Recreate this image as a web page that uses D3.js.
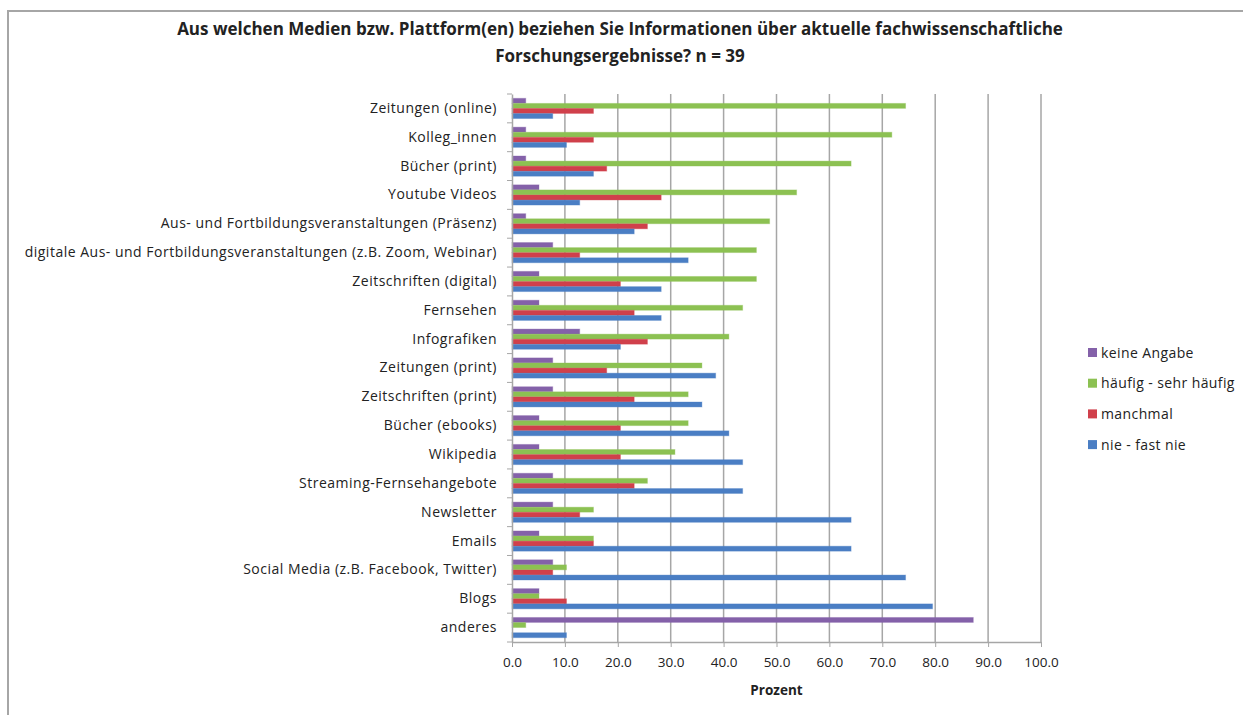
<!DOCTYPE html>
<html>
<head>
<meta charset="utf-8">
<script src="https://cdn.jsdelivr.net/npm/d3@7"></script>
<style>
  body { margin: 0; background: #fff; }
  svg text { font-family: "Open Sans", sans-serif; fill: #222; }
</style>
</head>
<body>
<div id="chart"></div>
<script>
// Categories, top to bottom
var categories = [
  "Zeitungen (online)", "Kolleg_innen", "Bücher (print)", "Youtube Videos",
  "Aus- und Fortbildungsveranstaltungen (Präsenz)",
  "digitale Aus- und Fortbildungsveranstaltungen (z.B. Zoom, Webinar)",
  "Zeitschriften (digital)", "Fernsehen", "Infografiken", "Zeitungen (print)",
  "Zeitschriften (print)", "Bücher (ebooks)", "Wikipedia",
  "Streaming-Fernsehangebote", "Newsletter", "Emails",
  "Social Media (z.B. Facebook, Twitter)", "Blogs", "anderes"
];

var seriesNames = ["keine Angabe", "häufig - sehr häufig", "manchmal", "nie - fast nie"];
var seriesColours = ["#8461a9", "#8cc152", "#d0404b", "#4a7ec4"];

// values in percent (n = 39)
var keineAngabe = [2.6, 2.6, 2.6, 5.1, 2.6, 7.7, 5.1, 5.1, 12.8, 7.7, 7.7, 5.1, 5.1, 7.7, 7.7, 5.1, 7.7, 5.1, 87.2];
var haeufig     = [74.4, 71.8, 64.1, 53.8, 48.7, 46.2, 46.2, 43.6, 41.0, 35.9, 33.3, 33.3, 30.8, 25.6, 15.4, 15.4, 10.3, 5.1, 2.6];
var manchmal    = [15.4, 15.4, 17.9, 28.2, 25.6, 12.8, 20.5, 23.1, 25.6, 17.9, 23.1, 20.5, 20.5, 23.1, 12.8, 15.4, 7.7, 10.3, 0];
var nieFastNie  = [7.7, 10.3, 15.4, 12.8, 23.1, 33.3, 28.2, 28.2, 20.5, 38.5, 35.9, 41.0, 43.6, 43.6, 64.1, 64.1, 74.4, 79.5, 10.3];

var xTicks = [0, 10, 20, 30, 40, 50, 60, 70, 80, 90, 100];

var allSeries = [keineAngabe, haeufig, manchmal, nieFastNie];

var width = 1243, height = 715;
var margins = { top: 94, right: 202, bottom: 73, left: 512 };

var svg = d3.select("#chart").append("svg")
  .attr("width", width)
  .attr("height", height);

// outer frame
svg.append("path")
  .attr("d", "M8," + height + " L8,11 L" + width + ",11")
  .attr("fill", "none")
  .attr("stroke", "#a6a6a6")
  .attr("stroke-width", 2);

var scaleX = d3.scaleLinear()
  .domain([0, 100])
  .range([margins.left, width - margins.right]);

var scaleY = d3.scaleBand()
  .domain(categories)
  .range([margins.top, height - margins.bottom])
  .paddingInner(0)
  .paddingOuter(0);

var inner = d3.scaleBand()
  .domain(d3.range(allSeries.length))
  .range([0, scaleY.bandwidth()])
  .paddingOuter(0.85)
  .paddingInner(0.03);

// gridlines
svg.append("g")
  .selectAll("line")
  .data(xTicks.slice(1))
  .enter().append("line")
  .attr("x1", function (d) { return scaleX(d); })
  .attr("x2", function (d) { return scaleX(d); })
  .attr("y1", margins.top)
  .attr("y2", height - margins.bottom)
  .attr("stroke", "#a6a6a6")
  .attr("stroke-width", 1.5);

// bars
var groups = svg.append("g").selectAll("g")
  .data(allSeries)
  .enter().append("g")
  .attr("fill", function (d, i) { return seriesColours[i]; });

groups.each(function (values, si) {
  d3.select(this).selectAll("rect")
    .data(values)
    .enter().append("rect")
    .attr("x", scaleX(0))
    .attr("y", function (d, i) { return scaleY(categories[i]) + inner(si); })
    .attr("width", function (d) { return scaleX(d) - scaleX(0); })
    .attr("height", inner.bandwidth())
    .attr("stroke", seriesColours[si])
    .attr("stroke-opacity", 0.35)
    .attr("stroke-width", 1);
});

// x axis
var xAxis = svg.append("g")
  .attr("transform", "translate(0," + (height - margins.bottom) + ")")
  .call(d3.axisBottom(scaleX).tickValues(xTicks).tickFormat(d3.format(".1f")).tickSizeInner(5).tickSizeOuter(0));
xAxis.select(".domain").attr("stroke", "#a6a6a6").attr("stroke-width", 1.5);
xAxis.selectAll(".tick line").attr("stroke", "#a6a6a6");
xAxis.selectAll(".tick text")
  .attr("y", 15)
  .style("font-size", "13.5px")
  .style("font-family", "'Open Sans', sans-serif")
  .attr("fill", "#222");

// y axis
var yAxis = svg.append("g")
  .attr("transform", "translate(" + margins.left + ",0)")
  .call(d3.axisLeft(scaleY).tickSize(0).tickPadding(15));
yAxis.select(".domain").attr("stroke", "#a6a6a6").attr("stroke-width", 1.5);
yAxis.selectAll(".tick text")
  .style("font-size", "14px")
  .style("letter-spacing", "0.5px")
  .style("font-family", "'Open Sans', sans-serif")
  .attr("fill", "#222");

// category separator ticks on the y axis
svg.append("g")
  .selectAll("line")
  .data(d3.range(categories.length + 1))
  .enter().append("line")
  .attr("x1", margins.left - 5)
  .attr("x2", margins.left)
  .attr("y1", function (d) { return margins.top + d * scaleY.step(); })
  .attr("y2", function (d) { return margins.top + d * scaleY.step(); })
  .attr("stroke", "#a6a6a6");

// title
var title = svg.append("text")
  .attr("text-anchor", "middle")
  .style("font-size", "17px")
  .style("font-weight", "bold");
title.append("tspan").attr("x", 620).attr("y", 35)
  .text("Aus welchen Medien bzw. Plattform(en) beziehen Sie Informationen über aktuelle fachwissenschaftliche");
title.append("tspan").attr("x", 620).attr("y", 62)
  .text("Forschungsergebnisse? n = 39");

// x label
svg.append("text")
  .attr("x", scaleX(50))
  .attr("y", 695)
  .attr("text-anchor", "middle")
  .style("font-size", "13.5px")
  .style("font-weight", "bold")
  .text("Prozent");

// legend
var legend = svg.append("g")
  .attr("transform", "translate(1088,348)")
  .selectAll("g")
  .data(seriesNames)
  .enter().append("g")
  .attr("transform", function (d, i) { return "translate(0," + (i * 30.7) + ")"; });

legend.append("rect")
  .attr("width", 9)
  .attr("height", 9)
  .attr("fill", function (d, i) { return seriesColours[i]; });

legend.append("text")
  .attr("x", 13)
  .attr("y", 9.5)
  .style("font-size", "14px")
  .style("letter-spacing", "0.4px")
  .text(function (d) { return d; });
</script>
</body>
</html>
